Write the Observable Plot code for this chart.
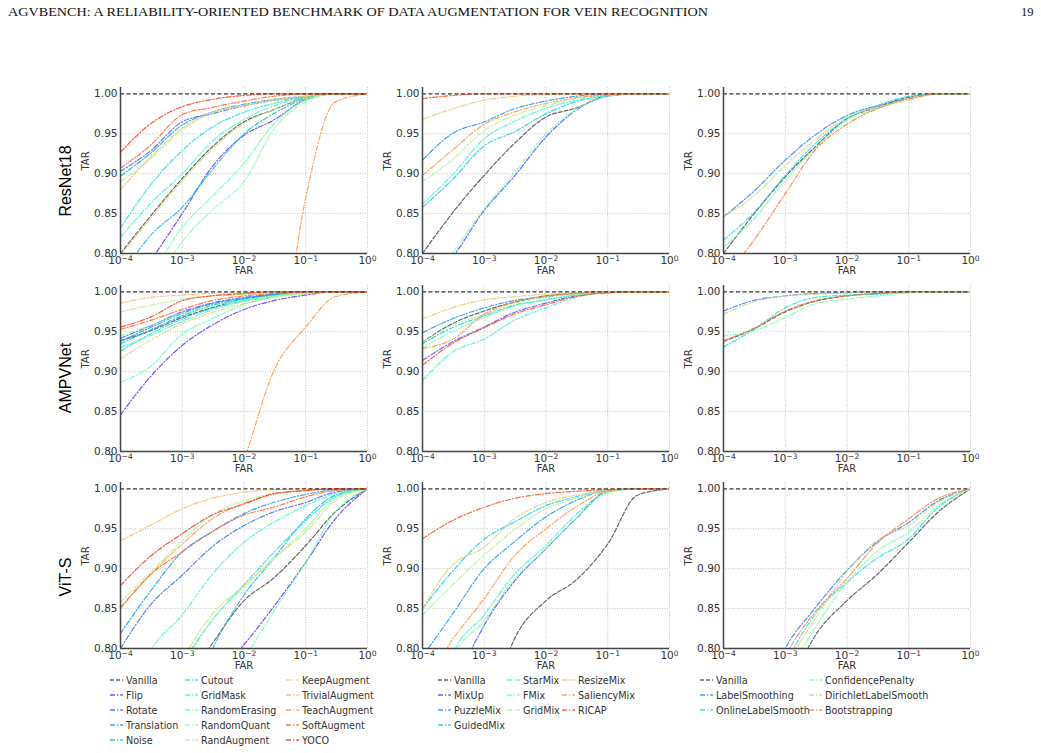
<!DOCTYPE html>
<html><head><meta charset="utf-8">
<script src="https://cdn.jsdelivr.net/npm/d3@7"></script>
<script src="https://cdn.jsdelivr.net/npm/@observablehq/plot@0.6"></script>
<style>
body{margin:0;background:#fff;}
#page{position:relative;width:1041px;height:753px;overflow:hidden;background:#fff;}
#page > svg, #page > figure{position:absolute;margin:0;}
</style></head><body><div id="page"></div>
<script>
// ---------------- data ----------------
const FAR = [1e-4, 3e-4, 1e-3, 3e-3, 1e-2, 3e-2, 1e-1, 3e-1, 1];
const FAR_TICKS = [1e-4, 1e-3, 1e-2, 1e-1, 1];
const TAR_TICKS = [0.80, 0.85, 0.90, 0.95, 1.00];
const backbones = ["ResNet18", "AMPVNet", "ViT-S"];

const augMethods = ["Vanilla","Flip","Rotate","Translation","Noise","Cutout","GridMask","RandomErasing","RandomQuant","RandAugment","KeepAugment","TrivialAugment","TeachAugment","SoftAugment","YOCO"];
const mixMethods = ["Vanilla","MixUp","PuzzleMix","GuidedMix","StarMix","FMix","GridMix","ResizeMix","SaliencyMix","RICAP"];
const regMethods = ["Vanilla","LabelSmoothing","OnlineLabelSmooth","ConfidencePenalty","DirichletLabelSmooth","Bootstrapping"];

// TAR at each FAR, one row per method (same order as the method lists)
const tarResNet18Aug = [
  [0.800,0.846,0.894,0.933,0.965,0.980,0.995,1,1],
  [0.740,0.790,0.850,0.908,0.948,0.967,0.993,1,1],
  [0.903,0.928,0.965,0.975,0.985,0.992,0.996,1,1],
  [0.897,0.925,0.961,0.977,0.987,0.993,0.997,1,1],
  [0.770,0.822,0.858,0.904,0.950,0.975,0.994,1,1],
  [0.832,0.885,0.929,0.958,0.977,0.988,0.996,1,1],
  [0.820,0.862,0.900,0.940,0.968,0.985,0.995,1,1],
  [0.720,0.770,0.833,0.871,0.913,0.962,0.992,1,1],
  [0.700,0.750,0.815,0.854,0.890,0.955,0.990,1,1],
  [0.890,0.918,0.955,0.976,0.986,0.993,0.997,1,1],
  [0.798,0.843,0.891,0.930,0.963,0.980,0.994,1,1],
  [0.880,0.920,0.957,0.977,0.985,0.992,0.997,1,1],
  [0.200,0.300,0.400,0.500,0.550,0.620,0.870,0.990,1],
  [0.907,0.935,0.974,0.983,0.991,0.997,1,1,1],
  [0.927,0.962,0.984,0.993,0.998,1,1,1,1]
];
const tarResNet18Mix = [
  [0.800,0.850,0.898,0.937,0.971,0.982,0.998,1,1],
  [0.760,0.795,0.854,0.896,0.946,0.979,0.997,1,1],
  [0.917,0.950,0.965,0.981,0.991,0.997,1,1,1],
  [0.858,0.892,0.935,0.952,0.975,0.990,0.998,1,1],
  [0.862,0.898,0.944,0.965,0.982,0.992,0.998,1,1],
  [0.755,0.800,0.856,0.900,0.950,0.980,0.997,1,1],
  [0.890,0.917,0.954,0.973,0.985,0.994,0.999,1,1],
  [0.968,0.981,0.992,0.997,0.999,1,1,1,1],
  [0.898,0.929,0.962,0.977,0.988,0.995,0.999,1,1],
  [0.994,0.998,1,1,1,1,1,1,1]
];
const tarResNet18Reg = [
  [0.800,0.848,0.896,0.933,0.969,0.983,0.996,1,1],
  [0.846,0.877,0.917,0.948,0.973,0.985,0.994,1,1],
  [0.817,0.850,0.898,0.937,0.969,0.985,0.997,1,1],
  [0.808,0.842,0.892,0.931,0.967,0.981,0.994,1,1],
  [0.846,0.871,0.910,0.942,0.971,0.983,0.992,1,1],
  [0.770,0.815,0.875,0.929,0.962,0.981,0.994,1,1]
];
const tarAMPVNetAug = [
  [0.939,0.951,0.968,0.980,0.991,0.996,0.999,1,1],
  [0.846,0.893,0.933,0.958,0.978,0.989,0.996,1,1],
  [0.942,0.957,0.975,0.986,0.993,0.997,1,1,1],
  [0.938,0.955,0.973,0.985,0.992,0.997,1,1,1],
  [0.935,0.952,0.970,0.983,0.991,0.996,0.999,1,1],
  [0.926,0.947,0.966,0.979,0.989,0.995,0.999,1,1],
  [0.930,0.945,0.963,0.977,0.988,0.994,0.999,1,1],
  [0.887,0.906,0.947,0.966,0.984,0.994,0.998,1,1],
  [0.945,0.958,0.972,0.982,0.990,0.995,0.999,1,1],
  [0.975,0.983,0.991,0.995,0.997,0.999,1,1,1],
  [0.916,0.939,0.960,0.974,0.985,0.993,0.998,1,1],
  [0.986,0.993,0.996,0.998,0.999,1,1,1,1],
  [0.300,0.400,0.500,0.700,0.790,0.900,0.956,0.994,1],
  [0.953,0.964,0.978,0.989,0.995,0.998,1,1,1],
  [0.956,0.968,0.989,0.995,0.998,1,1,1,1]
];
const tarAMPVNetMix = [
  [0.937,0.960,0.976,0.987,0.995,0.998,1,1,1],
  [0.914,0.937,0.956,0.974,0.986,0.995,0.999,1,1],
  [0.949,0.966,0.980,0.989,0.994,0.998,1,1,1],
  [0.935,0.955,0.970,0.983,0.990,0.996,0.999,1,1],
  [0.889,0.924,0.941,0.964,0.980,0.993,0.999,1,1],
  [0.930,0.950,0.968,0.982,0.990,0.996,0.999,1,1],
  [0.937,0.958,0.972,0.985,0.993,0.997,1,1,1],
  [0.966,0.980,0.990,0.994,0.997,0.999,1,1,1],
  [0.929,0.940,0.972,0.987,0.995,0.998,1,1,1],
  [0.908,0.935,0.955,0.972,0.984,0.994,0.999,1,1]
];
const tarAMPVNetReg = [
  [0.938,0.953,0.975,0.988,0.995,0.998,1,1,1],
  [0.976,0.989,0.995,0.998,0.999,1,1,1,1],
  [0.931,0.952,0.980,0.993,0.996,0.997,0.999,1,1],
  [0.945,0.951,0.968,0.985,0.991,0.995,0.999,1,1],
  [0.972,0.987,0.995,0.997,0.999,1,1,1,1],
  [0.939,0.954,0.976,0.989,0.995,0.998,1,1,1]
];
const tarViTSAug = [
  [0.600,0.680,0.750,0.805,0.860,0.888,0.929,0.971,1],
  [0.500,0.600,0.700,0.760,0.805,0.852,0.908,0.9625,1],
  [0.800,0.854,0.892,0.927,0.954,0.971,0.983,0.996,1],
  [0.819,0.871,0.921,0.946,0.969,0.983,0.993,0.999,1],
  [0.500,0.600,0.700,0.797,0.867,0.9125,0.9625,0.992,1],
  [0.600,0.700,0.780,0.835,0.880,0.920,0.960,0.990,1],
  [0.700,0.795,0.842,0.892,0.933,0.958,0.979,0.994,1],
  [0.500,0.550,0.600,0.700,0.785,0.846,0.908,0.971,1],
  [0.600,0.700,0.775,0.835,0.877,0.912,0.950,0.988,1],
  [0.858,0.895,0.935,0.967,0.985,0.994,0.998,1,1],
  [0.600,0.700,0.785,0.842,0.879,0.9125,0.946,0.985,1],
  [0.935,0.954,0.975,0.988,0.996,0.999,1,1,1],
  [0.852,0.892,0.931,0.962,0.982,0.993,0.998,1,1],
  [0.850,0.892,0.921,0.946,0.967,0.977,0.990,0.998,1],
  [0.879,0.915,0.944,0.967,0.981,0.994,0.998,1,1]
];
const tarViTSMix = [
  [0.500,0.600,0.700,0.810,0.860,0.885,0.931,0.992,1],
  [0.600,0.740,0.829,0.883,0.925,0.962,0.997,1,1],
  [0.790,0.842,0.900,0.933,0.965,0.985,0.998,1,1],
  [0.850,0.896,0.937,0.958,0.979,0.990,0.998,1,1],
  [0.650,0.790,0.842,0.892,0.929,0.967,0.996,1,1],
  [0.640,0.785,0.835,0.886,0.925,0.962,0.995,1,1],
  [0.842,0.879,0.917,0.948,0.975,0.988,0.997,1,1],
  [0.850,0.904,0.927,0.962,0.983,0.992,0.998,1,1],
  [0.750,0.810,0.8625,0.915,0.950,0.977,0.997,1,1],
  [0.9375,0.960,0.977,0.988,0.994,0.997,0.999,1,1]
];
const tarViTSReg = [
  [0.550,0.650,0.740,0.815,0.860,0.892,0.933,0.971,1],
  [0.600,0.700,0.800,0.850,0.898,0.933,0.958,0.985,1],
  [0.580,0.680,0.780,0.842,0.883,0.9125,0.9375,0.977,1],
  [0.560,0.660,0.760,0.825,0.883,0.921,0.946,0.979,1],
  [0.570,0.670,0.775,0.836,0.896,0.935,0.954,0.983,1],
  [0.590,0.690,0.790,0.845,0.8875,0.931,0.9625,0.988,1]
];

// ---------------- layout / style ----------------
const groups = [augMethods, mixMethods, regMethods];
const grid = [
  [tarResNet18Aug, tarResNet18Mix, tarResNet18Reg],
  [tarAMPVNetAug, tarAMPVNetMix, tarAMPVNetReg],
  [tarViTSAug, tarViTSMix, tarViTSReg]
];
const colLeft = [120, 422, 723];
const rowTop = [87, 285, 482];
const FW = 247, FH = 166, ML = 50, MT = 10, MR = 10, MB = 32;

function rainbow(t) { // matplotlib "rainbow"
  const r = Math.min(1, Math.abs(2 * t - 0.5)), g = Math.sin(Math.PI * t), b = Math.cos(Math.PI * t / 2);
  return `rgb(${Math.round(r*255)},${Math.round(g*255)},${Math.round(b*255)})`;
}
const colorsFor = ms => ms.map((m, i) => i === 0 ? "#4a4a4a" : rainbow(i / ms.length));
const DASH_V = "4,2", DASH_M = "5,2,1.2,2";
const supFmt = d => "10^" + Math.round(Math.log10(d));

const page = document.getElementById("page");

// overlay: header, row labels, legends
const ov = d3.select(page).append("svg").attr("width", 1041).attr("height", 753).style("left", "0px").style("top", "0px");
ov.append("text").attr("x", 8).attr("y", 16).attr("font-family", "Liberation Serif").attr("font-size", 12.5)
  .attr("textLength", 700).attr("lengthAdjust", "spacingAndGlyphs").attr("fill", "#111")
  .text("AGVBENCH: A RELIABILITY-ORIENTED BENCHMARK OF DATA AUGMENTATION FOR VEIN RECOGNITION");
ov.append("text").attr("x", 1021).attr("y", 16).attr("font-family", "Liberation Serif").attr("font-size", 12.5).attr("fill", "#111").text("19");

const rowLabelY = [181, 378, 577];
backbones.forEach((b, r) => {
  ov.append("text").attr("transform", `translate(65,${rowLabelY[r]}) rotate(-90)`)
    .attr("text-anchor", "middle").attr("dominant-baseline", "central")
    .attr("font-family", "Liberation Sans").attr("font-size", 16).attr("fill", "#000").text(b);
});

// legends
const legendLayout = [
  {handles: [110, 185, 286], perCol: [5, 5, 5]},
  {handles: [438, 507, 562], perCol: [4, 3, 3]},
  {handles: [700, 809], perCol: [3, 3]}
];
const legendRowY = [680, 695, 710, 725, 740];
groups.forEach((ms, g) => {
  const cols = colorsFor(ms);
  const L = legendLayout[g];
  let k = 0;
  L.perCol.forEach((n, c) => {
    for (let r = 0; r < n; r++, k++) {
      const x = L.handles[c], y = legendRowY[r];
      ov.append("line").attr("x1", x).attr("x2", x + 13).attr("y1", y).attr("y2", y)
        .attr("stroke", cols[k]).attr("stroke-width", 1.3).attr("stroke-opacity", 0.85)
        .attr("stroke-dasharray", k === 0 ? DASH_V : DASH_M);
      ov.append("text").attr("x", x + 16).attr("y", y).attr("dominant-baseline", "central")
        .attr("font-family", "DejaVu Sans").attr("font-size", 9.6).attr("fill", "#333").text(ms[k]);
    }
  });
});

// panels
grid.forEach((row, r) => {
  row.forEach((tars, c) => {
    const ms = groups[c];
    const rows = ms.flatMap((m, i) => FAR.map((f, j) => ({far: f, tar: tars[i][j], method: m})));
    const chart = Plot.plot({
      width: ML + FW + MR, height: MT + FH + MB,
      marginLeft: ML, marginRight: MR, marginTop: MT, marginBottom: MB,
      style: {background: "transparent", overflow: "visible", fontFamily: "DejaVu Sans", fontSize: "10.5px", color: "#333"},
      x: {type: "log", domain: [1e-4, 1], ticks: FAR_TICKS, tickFormat: supFmt, tickSize: 0, tickPadding: 3, label: null},
      y: {domain: [0.8, 1.008], ticks: TAR_TICKS, tickFormat: d => d.toFixed(2), tickSize: 0, tickPadding: 3, label: null},
      color: {domain: ms, range: colorsFor(ms)},
      marks: [
        Plot.ruleX(FAR_TICKS, {stroke: "#b8b8b8", strokeDasharray: "1,1.5", strokeWidth: 0.8}),
        Plot.ruleY(TAR_TICKS.slice(0, 4), {stroke: "#b8b8b8", strokeDasharray: "1,1.5", strokeWidth: 0.8}),
        Plot.line(rows.filter(d => d.method === "Vanilla"), {x: "far", y: "tar", z: "method", stroke: "method", strokeWidth: 1.2, strokeOpacity: 0.85, strokeDasharray: DASH_V, curve: "monotone-x", clip: true}),
        Plot.line(rows.filter(d => d.method !== "Vanilla"), {x: "far", y: "tar", z: "method", stroke: "method", strokeWidth: 1.2, strokeOpacity: 0.85, strokeDasharray: DASH_M, curve: "monotone-x", clip: true}),
        Plot.ruleY([1], {stroke: "#333", strokeDasharray: "4,2.5", strokeWidth: 1.2}),
        Plot.ruleX([1e-4], {stroke: "#444", strokeWidth: 1.5}),
        Plot.ruleY([0.8], {stroke: "#444", strokeWidth: 1.5}),
        Plot.text(["FAR"], {frameAnchor: "bottom", dy: 20, text: d => d, fontSize: 10, fill: "#333"}),
        Plot.text(["TAR"], {frameAnchor: "left", dx: -35, rotate: -90, text: d => d, fontSize: 10, fill: "#333"})
      ]
    });
    // render "10^k" tick labels with a real superscript
    d3.select(chart).selectAll("text").each(function () {
      const t = this.textContent;
      const m = /^10\^(-?\d+)$/.exec(t);
      if (!m) return;
      const sel = d3.select(this);
      sel.text(null);
      sel.append("tspan").text("10");
      sel.append("tspan").attr("dy", "-0.45em").attr("font-size", "0.72em").text(m[1].replace("-", "\u2212"));
    });
    chart.style.position = "absolute";
    chart.style.left = (colLeft[c] - ML) + "px";
    chart.style.top = (rowTop[r] - MT) + "px";
    page.appendChild(chart);
  });
});
</script></body></html>
